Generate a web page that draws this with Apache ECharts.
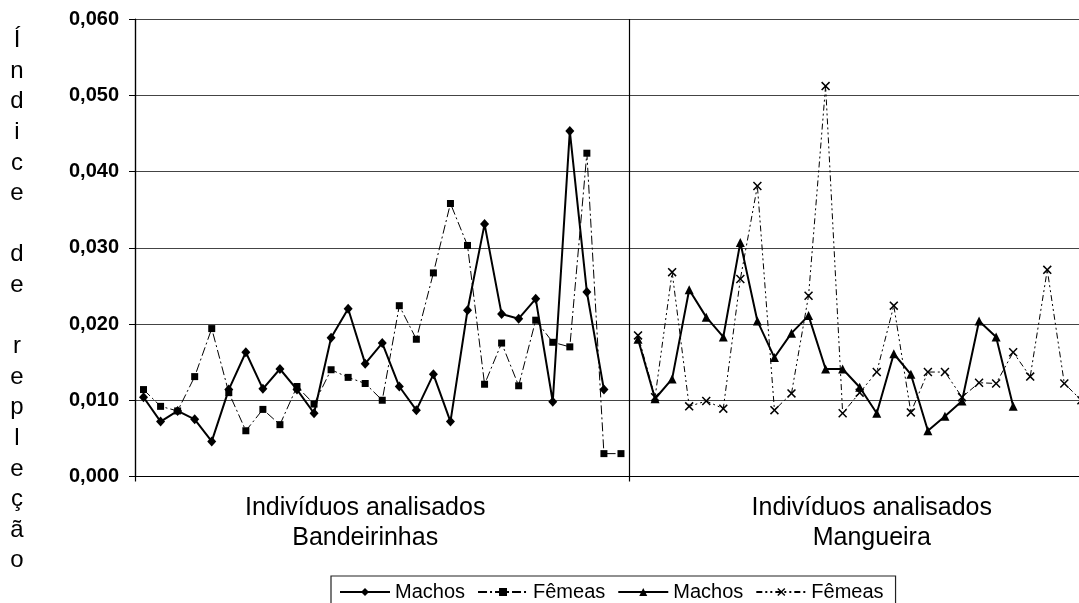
<!DOCTYPE html>
<html><head><meta charset="utf-8">
<script src="https://cdn.jsdelivr.net/npm/echarts@6/dist/echarts.min.js"></script>
<style>html,body{margin:0;padding:0;background:#fff}#c{width:1079px;height:603px}</style>
</head><body><div id="c"></div>
<script>
// ---- text ----
const yTitle = 'Índice de repleção';
const groupLabels = ['Indivíduos analisados\nBandeirinhas', 'Indivíduos analisados\nMangueira'];
const seriesNames = ['Machos', 'Fêmeas', 'Machos', 'Fêmeas'];
const yTickValues = [0, 0.01, 0.02, 0.03, 0.04, 0.05, 0.06];

// ---- data ----
const bandMachos = [0.0104, 0.0072, 0.0086, 0.0075, 0.0046, 0.0114, 0.0163, 0.0115, 0.0141, 0.0114,
  0.0083, 0.0182, 0.0220, 0.0148, 0.0175, 0.0118, 0.0087, 0.0134, 0.0072, 0.0218,
  0.0331, 0.0213, 0.0207, 0.0233, 0.0098, 0.0453, 0.0242, 0.0114];
const bandFemeas = [0.0114, 0.0092, 0.0086, 0.0131, 0.0194, 0.0110, 0.0060, 0.0088, 0.0068, 0.0118,
  0.0095, 0.0140, 0.0130, 0.0122, 0.0100, 0.0224, 0.0180, 0.0267, 0.0358, 0.0303,
  0.0121, 0.0175, 0.0119, 0.0205, 0.0176, 0.0170, 0.0424, 0.0030, 0.0030];
const mangMachos = [0.0180, 0.0102, 0.0128, 0.0245, 0.0209, 0.0183, 0.0307, 0.0204, 0.0156, 0.0188,
  0.0211, 0.0141, 0.0141, 0.0117, 0.0083, 0.0161, 0.0134, 0.0060, 0.0079, 0.0099,
  0.0204, 0.0183, 0.0092];
const mangFemeas = [0.0185, 0.0104, 0.0268, 0.0092, 0.0099, 0.0089, 0.0259, 0.0381, 0.0087, 0.0109,
  0.0237, 0.0512, 0.0083, 0.0110, 0.0137, 0.0224, 0.0084, 0.0137, 0.0137, 0.0104,
  0.0123, 0.0122, 0.0163, 0.0131, 0.0271, 0.0122, 0.0100];

// ---- build category axis ----
const groupSize = 29;
const nCats = groupSize * 2;
const categories = Array.from({length: nCats}, (_, i) => String(i + 1));
function place(arr, offset) {
  const out = new Array(nCats).fill(null);
  arr.forEach((v, i) => { out[offset + i] = v; });
  return out;
}
const FONT = '"Liberation Sans", Arial, sans-serif';
const crossPath = 'path://M0,1.2L1.2,0L5,3.8L8.8,0L10,1.2L6.2,5L10,8.8L8.8,10L5,6.2L1.2,10L0,8.8L3.8,5Z';
const ZW = '\u200b';

const chart = echarts.init(document.getElementById('c'), null, {renderer: 'canvas'});
chart.setOption({
  animation: false,
  backgroundColor: '#fff',
  grid: {left: 135, top: 19, width: 989, height: 457.5, containLabel: false, outerBoundsMode: 'none'},
  legend: {
    left: 331, top: 576,
    padding: [6, 12, 6, 8],
    itemGap: 12, itemWidth: 50, itemHeight: 10,
    borderColor: '#222', borderWidth: 1.2,
    textStyle: {fontFamily: FONT, fontSize: 20, color: '#000'},
    formatter: n => n.replace(ZW, ''),
    data: [seriesNames[0], seriesNames[1], seriesNames[2] + ZW, seriesNames[3] + ZW]
  },
  xAxis: {
    type: 'category', data: categories, boundaryGap: true,
    axisLine: {lineStyle: {color: '#000', width: 1.2}},
    axisTick: {show: true, length: 5, interval: groupSize - 1, lineStyle: {color: '#000', width: 1.2}},
    splitLine: {show: true, interval: groupSize - 1, lineStyle: {color: '#000', width: 1.2}},
    axisLabel: {
      interval: 0, margin: 16.5,
      fontFamily: FONT, fontSize: 25, color: '#000', lineHeight: 30,
      formatter: (v, i) => i === 13 ? groupLabels[0] : (i === 43 ? '{m|' + groupLabels[1].replace('\n', '}\n{m|') + '}' : ''),
      rich: {m: {fontFamily: FONT, fontSize: 25, color: '#000', lineHeight: 30, padding: [0, 10, 0, 0]}}
    }
  },
  yAxis: {
    type: 'value', min: yTickValues[0], max: yTickValues[yTickValues.length - 1], interval: 0.01,
    name: '{s| }\n' + yTitle.split('').join('\n'),
    nameLocation: 'middle', nameRotate: 0, nameGap: 118,
    nameTextStyle: {fontFamily: FONT, fontSize: 24, color: '#000', lineHeight: 30.6, align: 'center', verticalAlign: 'middle',
      rich: {s: {fontSize: 10, lineHeight: 106}}},
    axisLine: {show: true, lineStyle: {color: '#000', width: 1.2}},
    axisTick: {show: true, length: 6, lineStyle: {color: '#000'}},
    splitLine: {show: true, lineStyle: {color: '#444', width: 1.2}},
    axisLabel: {margin: 16, fontFamily: FONT, fontSize: 20, fontWeight: 'bold', color: '#000',
      formatter: v => v.toFixed(3).replace('.', ',')}
  },
  series: [
    {name: seriesNames[0], type: 'line', data: place(bandMachos, 0), symbol: 'diamond', symbolSize: [9, 10],
      lineStyle: {color: '#000', width: 2}, itemStyle: {color: '#000'}, z: 4},
    {name: seriesNames[1], type: 'line', data: place(bandFemeas, 0), symbol: 'rect', symbolSize: 7,
      lineStyle: {color: '#000', width: 1, type: [9, 3, 2, 3]}, itemStyle: {color: '#000'}, z: 3},
    {name: seriesNames[2] + ZW, type: 'line', data: place(mangMachos, groupSize), symbol: 'triangle', symbolSize: 9,
      lineStyle: {color: '#000', width: 2}, itemStyle: {color: '#000'}, z: 4},
    {name: seriesNames[3] + ZW, type: 'line', data: place(mangFemeas, groupSize), symbol: crossPath, symbolSize: 9,
      lineStyle: {color: '#000', width: 1, type: [6, 3, 2, 3, 2, 3]}, itemStyle: {color: '#000'}, z: 3}
  ]
});
</script></body></html>
